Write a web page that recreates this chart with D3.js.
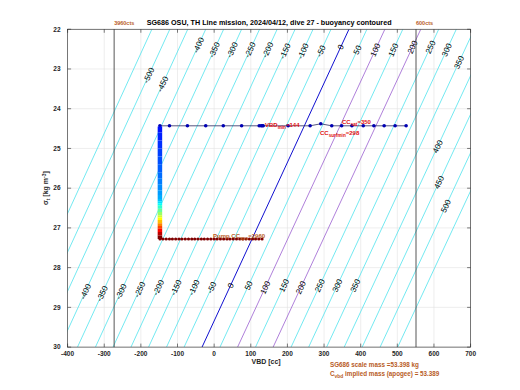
<!DOCTYPE html>
<html><head><meta charset="utf-8">
<script src="https://cdn.jsdelivr.net/npm/d3@7"></script>
<style>body{margin:0;background:#fff}text{font-family:"Liberation Sans",Arial,sans-serif}</style>
</head><body><svg id="c" width="520" height="390"></svg>
<script>
// ---- data ----
const xTicks = [-400,-300,-200,-100,0,100,200,300,400,500,600,700];
const yTicks = [22,23,24,25,26,27,28,29,30];
const contourLevels    = [-550,-500,-450,-400,-350,-300,-250,-200,-150,-100,-50,0,50,100,150,200,250,300,350,400,450,500,550];
const contourVbdTop    = [-170,-121,-72,-23,26,75,124,172,221,270,319,368,417,466,515,564,613,661,710,759,808,857,906]; // at sigma 22
const contourVbdBottom = [-567,-519,-470,-421,-373,-324,-276,-227,-179,-130,-82,-33,16,64,113,161,210,258,307,355,404,453,501]; // at sigma 30
const labelLevels = [-500,-450,-400,-350,-300,-250,-200,-150,-100,-50,0,50,100,150,200,250,300,350,
                     -400,-350,-300,-250,-200,-150,-100,-50,0,50,100,150,200,250,300,350,400,450,500];
const labelSigma  = [23.16,23.38,22.40,22.52,22.52,22.52,22.52,22.55,22.55,22.55,22.45,22.52,22.52,22.52,22.45,22.45,22.52,22.83,
                     28.6,28.65,28.6,28.55,28.5,28.5,28.5,28.5,28.45,28.45,28.5,28.45,28.5,28.45,28.45,28.45,24.95,25.85,26.45];
const surfVbd   = [-148,-122,-73,-23,25,75,123,128,131,134,202,262,291,321,348,376,407,436,464,494,524];
const surfSigma = [24.43,24.43,24.43,24.43,24.43,24.43,24.43,24.43,24.43,24.43,24.43,24.43,24.38,24.43,24.43,24.43,24.43,24.43,24.43,24.43,24.43];
const descentDepth = [125,140,155,170,185,200,215,230,245,260,275,290,310,340,375,420,470,520,570,620,680,740,800,860,930,990];
const descentSigma = [24.45,24.6,24.8,25.0,25.2,25.4,25.6,25.75,25.9,26.05,26.17,26.27,26.33,26.38,26.43,26.52,26.6,26.68,26.74,26.8,26.88,26.95,27.02,27.1,27.19,27.28];
const descentVbd = -148;
const maxDepth = 990;
const apoVbd = [-148,-140,-131,-122,-114,-105,-96,-88,-79,-70,-61,-53,-44,-35,-27,-18,-9,0,8,17,26,35,43,52,61,70,78,87,96,105,113,122,131];
const apoSigma = 27.28;
const cutLines = [{vbd:-273, label:"3960cts"},{vbd:551, label:"600cts"}];

// ---- layout ----
const W=520,H=390, L=67.6, R=470.6, T=29.25, B=347.1;
const svg = d3.select("#c");
svg.append("rect").attr("width",W).attr("height",H).attr("fill","#fff");
const x = d3.scaleLinear().domain([-400,700]).range([L,R]);
const y = d3.scaleLinear().domain([22,30]).range([T,B]);

svg.append("clipPath").attr("id","clip").append("rect").attr("x",L).attr("y",T).attr("width",R-L).attr("height",B-T);

// grid
const grid = svg.append("g");
grid.selectAll(".gx").data(xTicks).enter().append("line")
  .attr("x1",d=>x(d)).attr("x2",d=>x(d)).attr("y1",T).attr("y2",B).attr("stroke","#e3e3e3").attr("stroke-width",0.6);
grid.selectAll(".gy").data(yTicks).enter().append("line")
  .attr("y1",d=>y(d)).attr("y2",d=>y(d)).attr("x1",L).attr("x2",R).attr("stroke","#e3e3e3").attr("stroke-width",0.6);

const plot = svg.append("g").attr("clip-path","url(#clip)");
function lvlColor(l){ if(l===0) return "#1010d0"; if(l===100||l===200) return "#9b5fd0"; return "#4fe3ee"; }
contourLevels.forEach((l,i)=>{
  plot.append("line").attr("x1",x(contourVbdTop[i])).attr("y1",y(22)).attr("x2",x(contourVbdBottom[i])).attr("y2",y(30))
    .attr("stroke",lvlColor(l)).attr("stroke-width",l===0?1:0.8);
});
function vbdAt(level, s){ const i=contourLevels.indexOf(level); const t=(s-22)/8; return contourVbdTop[i]+(contourVbdBottom[i]-contourVbdTop[i])*t; }
labelLevels.forEach((l,k)=>{
  const s=labelSigma[k], v=vbdAt(l,s);
  const i=contourLevels.indexOf(l);
  const ang = Math.atan2(y(30)-y(22), x(contourVbdBottom[i])-x(contourVbdTop[i]))*180/Math.PI;
  svg.append("text").attr("transform",`translate(${x(v)},${y(s)}) rotate(${ang-180})`)
    .attr("text-anchor","middle").attr("dy","0.35em").attr("font-size",8).attr("fill","#000").text(l);
});

cutLines.forEach(c=>{
  svg.append("line").attr("x1",x(c.vbd)).attr("x2",x(c.vbd)).attr("y1",T).attr("y2",B).attr("stroke","#444").attr("stroke-width",0.9);
  svg.append("text").attr("x",x(c.vbd)).attr("y",T-4).attr("font-size",5.5).attr("font-weight","bold").attr("fill","#b85c1f").text(c.label);
});

function jet(t){ const c=v=>Math.max(0,Math.min(1,v)); return d3.rgb(255*c(1.5-Math.abs(4*t-3)),255*c(1.5-Math.abs(4*t-2)),255*c(1.5-Math.abs(4*t-1))).toString(); }

const line = d3.line().x(d=>x(d[0])).y(d=>y(d[1]));
const surf = surfVbd.map((v,i)=>[v,surfSigma[i]]);
plot.append("path").attr("d",line(surf)).attr("fill","none").attr("stroke","#2a2a60").attr("stroke-width",0.8);
plot.selectAll(".sd").data(surf).enter().append("circle").attr("cx",d=>x(d[0])).attr("cy",d=>y(d[1])).attr("r",1.8).attr("fill",jet(0.05));
for(let i=0;i<descentSigma.length-1;i++){
  plot.append("line").attr("x1",x(descentVbd)).attr("x2",x(descentVbd)).attr("y1",y(descentSigma[i])).attr("y2",y(descentSigma[i+1]))
   .attr("stroke",jet(descentDepth[i+1]/maxDepth)).attr("stroke-width",4.5);
}
const apo = apoVbd.map(v=>[v,apoSigma]);
plot.append("path").attr("d",line(apo)).attr("fill","none").attr("stroke","#800000").attr("stroke-width",0.8);
plot.selectAll(".ad").data(apo).enter().append("circle").attr("cx",d=>x(d[0])).attr("cy",d=>y(d[1])).attr("r",1.5).attr("fill","#800000");

// axes box
svg.append("rect").attr("x",L).attr("y",T).attr("width",R-L).attr("height",B-T).attr("fill","none").attr("stroke","#262626").attr("stroke-width",0.6);
const tk=3.5;
xTicks.forEach(t=>{
  svg.append("line").attr("x1",x(t)).attr("x2",x(t)).attr("y1",B).attr("y2",B-tk).attr("stroke","#262626").attr("stroke-width",0.6);
  svg.append("line").attr("x1",x(t)).attr("x2",x(t)).attr("y1",T).attr("y2",T+tk).attr("stroke","#262626").attr("stroke-width",0.6);
  svg.append("text").attr("x",x(t)).attr("y",B+8.5).attr("text-anchor","middle").attr("font-size",6.5).attr("font-weight","bold").attr("fill","#262626").text(t);
});
yTicks.forEach(t=>{
  svg.append("line").attr("y1",y(t)).attr("y2",y(t)).attr("x1",L).attr("x2",L+tk).attr("stroke","#262626").attr("stroke-width",0.6);
  svg.append("line").attr("y1",y(t)).attr("y2",y(t)).attr("x1",R).attr("x2",R-tk).attr("stroke","#262626").attr("stroke-width",0.6);
  svg.append("text").attr("x",L-7).attr("y",y(t)).attr("dy","0.35em").attr("text-anchor","end").attr("font-size",6.5).attr("font-weight","bold").attr("fill","#262626").text(t);
});
svg.append("text").attr("x",(L+R)/2).attr("y",T-4).attr("text-anchor","middle").attr("font-size",7.2).attr("font-weight","bold").attr("fill","#000")
  .text("SG686 OSU, TH Line mission, 2024/04/12, dive 27 - buoyancy contoured");
svg.append("text").attr("x",(L+R)/2-3).attr("y",B+17).attr("text-anchor","middle").attr("font-size",7).attr("font-weight","bold").attr("fill","#262626").text("VBD [cc]");
const yl = svg.append("text").attr("transform",`translate(48,${(T+B)/2}) rotate(-90)`).attr("text-anchor","middle").attr("font-size",7).attr("font-weight","bold").attr("fill","#262626");
yl.append("tspan").text("σ");
yl.append("tspan").attr("font-size",5).attr("dy",1.5).text("t");
yl.append("tspan").attr("dy",-1.5).text(" [kg m");
yl.append("tspan").attr("font-size",5).attr("dy",-2.5).text("-3");
yl.append("tspan").attr("dy",2.5).text("]");

const red="#e01010", brown="#b85c1f";
// parts: [text, isSub]
function sub(x0,y0,parts,color,fs){
  fs=fs||6;
  const t=svg.append("text").attr("x",x0).attr("y",y0).attr("font-size",fs).attr("font-weight","bold").attr("fill",color);
  let down=false;
  parts.forEach(p=>{
    const dy = p[1] && !down ? 1.8 : (!p[1] && down ? -1.8 : 0);
    down = !!p[1];
    t.append("tspan").attr("font-size",p[1]?fs*0.78:fs).attr("dy",dy).text(p[0]);
  });
}
sub(265,127,[["VBD",0],["min",1],["=144",0]],red);
sub(342,124,[["CC",0],["sat",1],["=350",0]],red);
sub(320,135,[["CC",0],["surfmin",1],["=298",0]],red);
sub(213,238,[["Pump CC",0],["apo",1],["=2960",0]],brown);
sub(330,367,[["SG686 scale mass =53.398 kg",0]],brown,6.3);
sub(330,376,[["C",0],["vbd",1],[" implied mass (apogee) = 53.389",0]],brown,6.3);
</script></body></html>
